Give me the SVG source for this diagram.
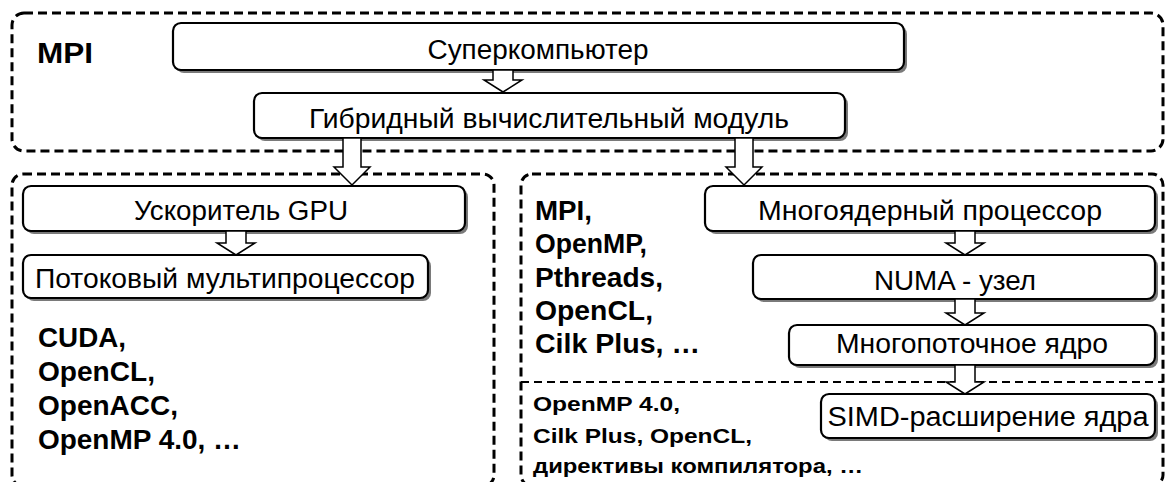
<svg xmlns="http://www.w3.org/2000/svg" width="1167" height="482" viewBox="0 0 1167 482">
<defs>
<style>
.cont{fill:none;stroke:#000;stroke-width:3;stroke-dasharray:9 5}
.div{fill:none;stroke:#000;stroke-width:2;stroke-dasharray:8 5}
.sh{fill:#7a7a7a}
.box{fill:#fff;stroke:#000;stroke-width:2.2}
.t{font-family:"Liberation Sans",Arial,sans-serif;font-size:27px;fill:#000;text-anchor:middle}
.b{font-family:"Liberation Sans",Arial,sans-serif;font-size:27px;font-weight:bold;fill:#000}
.bs{font-family:"Liberation Sans",Arial,sans-serif;font-size:21px;font-weight:bold;fill:#000}
.arr{fill:#fff;stroke:#000;stroke-width:1.5;stroke-linejoin:miter}
</style>
</defs>
<rect id="top-container" class="cont" x="12" y="13" width="1151" height="138" rx="12"/>
<rect id="gpu-container" class="cont" x="12" y="174" width="482" height="312" rx="11"/>
<rect id="cpu-container" class="cont" x="521" y="174" width="642" height="312" rx="11"/>
<line class="div" x1="521" y1="382" x2="1163" y2="382"/>
<text id="mpi-label" class="b" x="37" y="63" textLength="56" lengthAdjust="spacingAndGlyphs" style="font-size:29px">MPI</text>

<g id="node-super">
<rect class="sh" x="176" y="26" width="731" height="47" rx="8"/>
<rect class="box" x="173" y="23" width="731" height="47" rx="8"/>
<text class="t" x="538" y="59" textLength="221" lengthAdjust="spacingAndGlyphs">Суперкомпьютер</text>
</g>
<g id="node-hybrid">
<rect class="sh" x="257" y="96" width="591" height="45" rx="8"/>
<rect class="box" x="254" y="93" width="591" height="45" rx="8"/>
<text class="t" x="549" y="128" textLength="480" lengthAdjust="spacingAndGlyphs">Гибридный вычислительный модуль</text>
</g>
<g id="node-gpu">
<rect class="sh" x="26" y="189" width="442" height="45" rx="8"/>
<rect class="box" x="23" y="186" width="442" height="45" rx="8"/>
<text class="t" x="241" y="220" textLength="214" lengthAdjust="spacingAndGlyphs">Ускоритель GPU</text>
</g>
<g id="node-sm">
<rect class="sh" x="26" y="258" width="405" height="43" rx="8"/>
<rect class="box" x="23" y="255" width="405" height="43" rx="8"/>
<text class="t" x="225" y="288" textLength="380" lengthAdjust="spacingAndGlyphs">Потоковый мультипроцессор</text>
</g>
<g id="gpu-apis">
<text class="b" x="38" y="347" textLength="88" lengthAdjust="spacingAndGlyphs">CUDA,</text>
<text class="b" x="38" y="381" textLength="117" lengthAdjust="spacingAndGlyphs">OpenCL,</text>
<text class="b" x="38" y="415" textLength="140" lengthAdjust="spacingAndGlyphs">OpenACC,</text>
<text class="b" x="38" y="449" textLength="203" lengthAdjust="spacingAndGlyphs">OpenMP 4.0, …</text>
</g>
<g id="node-multicore">
<rect class="sh" x="708" y="189" width="450" height="45" rx="8"/>
<rect class="box" x="705" y="186" width="450" height="45" rx="8"/>
<text class="t" x="930" y="220" textLength="344" lengthAdjust="spacingAndGlyphs">Многоядерный процессор</text>
</g>
<g id="node-numa">
<rect class="sh" x="756" y="258" width="402" height="44" rx="8"/>
<rect class="box" x="753" y="255" width="402" height="44" rx="8"/>
<text class="t" x="955" y="290" textLength="162" lengthAdjust="spacingAndGlyphs">NUMA - узел</text>
</g>
<g id="node-mtcore">
<rect class="sh" x="792" y="328" width="366" height="40" rx="8"/>
<rect class="box" x="789" y="325" width="366" height="40" rx="8"/>
<text class="t" x="972" y="353" textLength="272" lengthAdjust="spacingAndGlyphs">Многопоточное ядро</text>
</g>
<g id="node-simd">
<rect class="sh" x="824" y="397" width="334" height="44" rx="8"/>
<rect class="box" x="821" y="394" width="334" height="44" rx="8"/>
<text class="t" x="988" y="426" textLength="321" lengthAdjust="spacingAndGlyphs">SIMD-расширение ядра</text>
</g>
<g id="cpu-apis">
<text class="b" x="535" y="220" textLength="57" lengthAdjust="spacingAndGlyphs">MPI,</text>
<text class="b" x="535" y="253" textLength="112" lengthAdjust="spacingAndGlyphs">OpenMP,</text>
<text class="b" x="535" y="287" textLength="128" lengthAdjust="spacingAndGlyphs">Pthreads,</text>
<text class="b" x="535" y="320" textLength="118" lengthAdjust="spacingAndGlyphs">OpenCL,</text>
<text class="b" x="535" y="353" textLength="165" lengthAdjust="spacingAndGlyphs">Cilk Plus, …</text>
</g>
<g id="simd-apis">
<text class="bs" x="533" y="411" textLength="147" lengthAdjust="spacingAndGlyphs">OpenMP 4.0,</text>
<text class="bs" x="533" y="443" textLength="219" lengthAdjust="spacingAndGlyphs">Cilk Plus, OpenCL,</text>
<text class="bs" x="533" y="473" textLength="330" lengthAdjust="spacingAndGlyphs">директивы компилятора, …</text>
</g>
<g id="connectors">
<polygon class="arr" points="493,70 513,70 513,80 522,80 503,92 484,80 493,80"/>
<polygon class="arr" points="343,138 361,138 361,167 370,167 352,185 334,167 343,167"/>
<polygon class="arr" points="735,138 753,138 753,167 762,167 744,185 726,167 735,167"/>
<polygon class="arr" points="226,231 246,231 246,243 255,243 236,255 217,243 226,243"/>
<polygon class="arr" points="955,231 975,231 975,243 984,243 965,255 946,243 955,243"/>
<polygon class="arr" points="955,299 975,299 975,313 984,313 965,325 946,313 955,313"/>
<polygon class="arr" points="955,365 975,365 975,382 984,382 965,394 946,382 955,382"/>
</g>
</svg>
